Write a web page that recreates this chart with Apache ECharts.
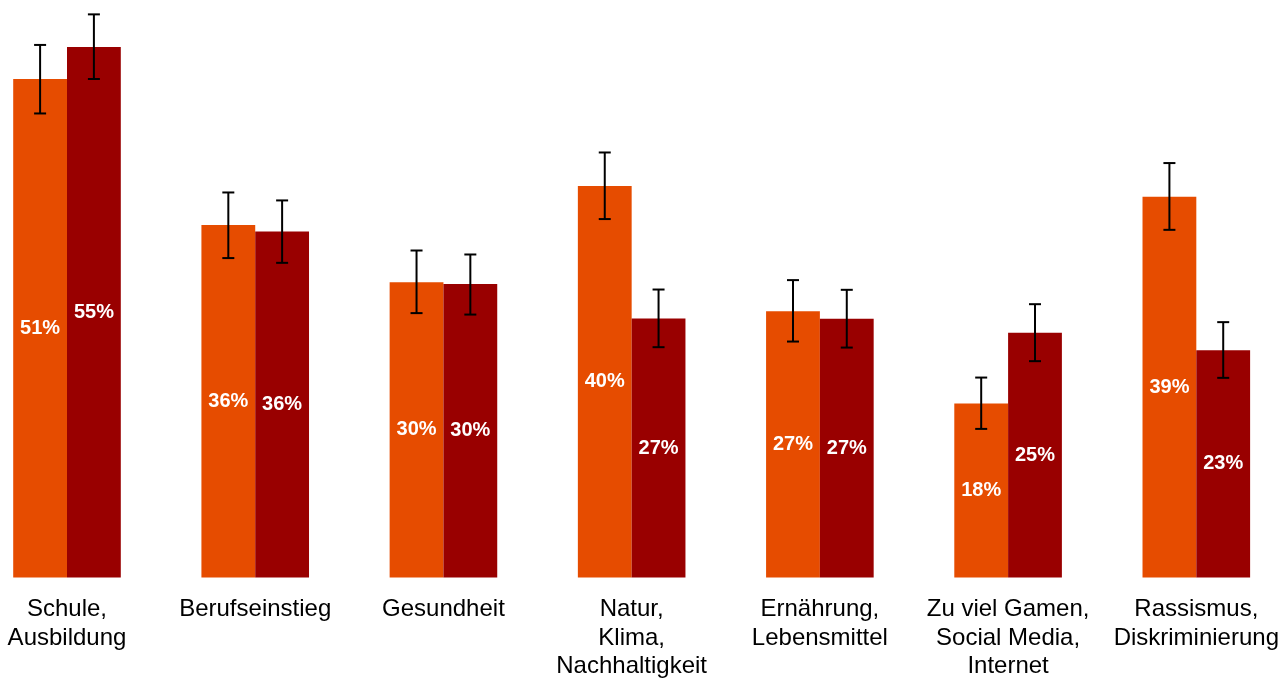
<!DOCTYPE html>
<html>
<head>
<meta charset="utf-8">
<script src="https://cdn.jsdelivr.net/npm/echarts@6/dist/echarts.min.js"></script>
<style>
  html, body { margin: 0; padding: 0; background: #ffffff; }
  #chart { width: 1282px; height: 681px; }
</style>
</head>
<body>
<div id="chart"></div>
<script>
const categories = [
  'Schule,\nAusbildung',
  'Berufseinstieg',
  'Gesundheit',
  'Natur,\nKlima,\nNachhaltigkeit',
  'Ernährung,\nLebensmittel',
  'Zu viel Gamen,\nSocial Media,\nInternet',
  'Rassismus,\nDiskriminierung'
];
const seriesA = [51.36, 36.31, 30.43, 40.33, 27.44, 17.92, 39.23];
const seriesB = [54.66, 35.65, 30.23, 26.68, 26.65, 25.21, 23.42];
const errALow  = [47.81, 32.91, 27.24, 36.93, 24.31, 15.31, 35.82];
const errAHigh = [54.87, 39.67, 33.69, 43.79, 30.64, 20.60, 42.70];
const errBLow  = [51.36, 32.42, 27.09, 23.73, 23.69, 22.29, 20.57];
const errBHigh = [58.02, 38.85, 33.28, 29.67, 29.64, 28.16, 26.31];

const BAR_W = 53.8;
const colorA = '#E64C00';
const colorB = '#990000';

function errorSeries(lows, highs, offset) {
  return {
    type: 'custom',
    z: 10,
    clip: false,
    silent: true,
    data: lows.map((lo, i) => [i, lo, highs[i]]),
    renderItem: function (params, api) {
      const i = api.value(0);
      const lo = api.coord([i, api.value(1)]);
      const hi = api.coord([i, api.value(2)]);
      const x = lo[0] + offset;
      const cap = 6;
      const style = { stroke: '#000', lineWidth: 2, fill: null };
      return {
        type: 'group',
        children: [
          { type: 'line', shape: { x1: x, y1: hi[1], x2: x, y2: lo[1] }, style: style },
          { type: 'line', shape: { x1: x - cap, y1: hi[1], x2: x + cap, y2: hi[1] }, style: style },
          { type: 'line', shape: { x1: x - cap, y1: lo[1], x2: x + cap, y2: lo[1] }, style: style }
        ]
      };
    }
  };
}

const valueLabel = {
  show: true,
  position: 'inside',
  color: '#ffffff',
  fontFamily: 'Liberation Sans, Arial, sans-serif',
  fontWeight: 'bold',
  fontSize: 20,
  formatter: p => Math.round(p.value) + '%'
};

const chart = echarts.init(document.getElementById('chart'), null, { renderer: 'canvas' });
chart.setOption({
  animation: false,
  backgroundColor: '#ffffff',
  grid: { left: 67, right: 84, top: 0, bottom: 103.5, containLabel: false },
  xAxis: {
    type: 'category',
    data: categories,
    boundaryGap: false,
    axisLine: { show: false },
    axisTick: { show: false },
    axisLabel: {
      interval: 0,
      margin: 18,
      color: '#000000',
      fontFamily: 'Liberation Sans, Arial, sans-serif',
      fontSize: 24,
      lineHeight: 28.5,
      align: 'center'
    }
  },
  yAxis: {
    type: 'value',
    min: 0,
    max: 59.5,
    show: false,
    splitLine: { show: false }
  },
  series: [
    {
      name: 'A',
      type: 'bar',
      data: seriesA,
      barWidth: BAR_W,
      barGap: '0%',
      clip: false,
      itemStyle: { color: colorA },
      label: valueLabel
    },
    {
      name: 'B',
      type: 'bar',
      data: seriesB,
      barWidth: BAR_W,
      barGap: '0%',
      clip: false,
      itemStyle: { color: colorB },
      label: valueLabel
    },
    errorSeries(errALow, errAHigh, -BAR_W / 2),
    errorSeries(errBLow, errBHigh, BAR_W / 2)
  ]
});
</script>
</body>
</html>
